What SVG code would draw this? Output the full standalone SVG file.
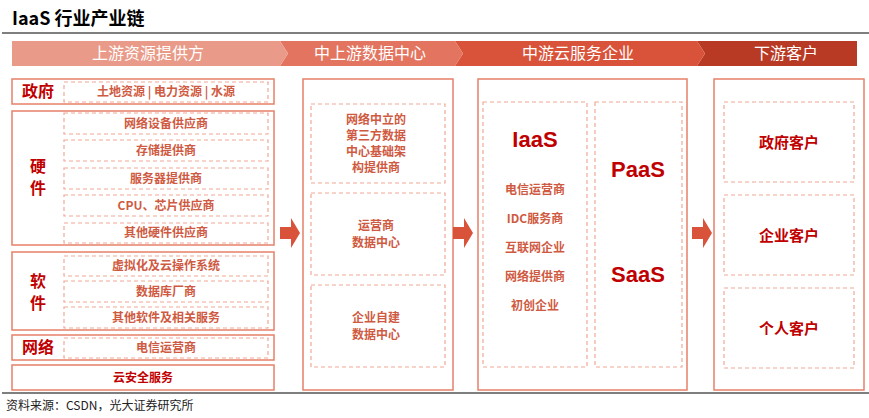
<svg xmlns="http://www.w3.org/2000/svg" width="869" height="418" viewBox="0 0 869 418">
<style>
text{font-family:"Noto Sans CJK SC","Liberation Sans",sans-serif;font-weight:bold;text-anchor:middle}
.box{fill:#fff;stroke:#e8806a;stroke-width:1.5}
.dash{fill:none;stroke:#f0a896;stroke-width:1.2;stroke-dasharray:4 3}
.it{fill:#cf5a42;font-size:12px}
.lb{fill:#c00000;font-size:16px}
.hd{fill:#fff;font-size:16px;font-weight:normal}
.big{fill:#c00000;font-family:"Liberation Sans",sans-serif;font-size:22px}
.cu{fill:#c00000;font-size:15px}
.ar{fill:#d9533a}
</style>
<rect width="869" height="418" fill="#fff"/>
<text x="12" y="25" style="text-anchor:start;font-size:18px;fill:#000">IaaS 行业产业链</text>
<line x1="2" y1="33" x2="869" y2="33" stroke="#555" stroke-width="1.5"/>
<line x1="2" y1="393" x2="869" y2="393" stroke="#555" stroke-width="1.5"/>
<text x="6" y="410" style="text-anchor:start;font-size:12px;font-weight:normal;fill:#222">资料来源：CSDN，光大证券研究所</text>
<g id="header">
<polygon points="697,41 857,41 857,66 697,66 705,53.5" fill="#b83a24"/>
<polygon points="455,41 697,41 705,53.5 697,66 455,66 463,53.5" fill="#d9533a"/>
<polygon points="280,41 455,41 463,53.5 455,66 280,66 288,53.5" fill="#e37560"/>
<polygon points="12,41 280,41 288,53.5 280,66 12,66" fill="#e99a88"/>
<text class="hd" x="148" y="59">上游资源提供方</text>
<text class="hd" x="370" y="59">中上游数据中心</text>
<text class="hd" x="578" y="59">中游云服务企业</text>
<text class="hd" x="786" y="59">下游客户</text>
</g>
<g id="gov"><rect class="box" x="12" y="79" width="262" height="25"/><rect class="dash" x="64" y="82" width="204" height="20"/>
<text class="lb" x="38" y="97">政府</text><text class="it" x="166" y="96">土地资源 | 电力资源 | 水源</text></g>
<g id="hw"><rect class="box" x="12" y="111" width="262" height="134"/>
<text class="lb" x="38" y="172">硬</text><text class="lb" x="38" y="194">件</text>
<rect class="dash" x="64" y="113" width="204" height="21"/><text class="it" x="166" y="128">网络设备供应商</text>
<rect class="dash" x="64" y="140" width="204" height="21"/><text class="it" x="166" y="155">存储提供商</text>
<rect class="dash" x="64" y="168" width="204" height="21"/><text class="it" x="166" y="183">服务器提供商</text>
<rect class="dash" x="64" y="195" width="204" height="21"/><text class="it" x="166" y="210">CPU、芯片供应商</text>
<rect class="dash" x="64" y="223" width="204" height="20"/><text class="it" x="166" y="237">其他硬件供应商</text></g>
<g id="sw"><rect class="box" x="12" y="252" width="262" height="78"/>
<text class="lb" x="38" y="287">软</text><text class="lb" x="38" y="309">件</text>
<rect class="dash" x="64" y="256" width="204" height="20"/><text class="it" x="166" y="270">虚拟化及云操作系统</text>
<rect class="dash" x="64" y="281" width="204" height="21"/><text class="it" x="166" y="296">数据库厂商</text>
<rect class="dash" x="64" y="307" width="204" height="21"/><text class="it" x="166" y="322">其他软件及相关服务</text></g>
<g id="net"><rect class="box" x="12" y="335" width="262" height="25"/><rect class="dash" x="64" y="338" width="204" height="20"/>
<text class="lb" x="38" y="353">网络</text><text class="it" x="166" y="352">电信运营商</text></g>
<g id="sec"><rect class="box" x="12" y="365" width="262" height="25"/><text class="it" x="143" y="382" style="fill:#c00000">云安全服务</text></g>
<g id="dc"><rect class="box" x="303" y="79" width="150" height="311"/>
<rect class="dash" x="311" y="104" width="134" height="79"/>
<text class="it" x="376" y="124">网络中立的</text><text class="it" x="376" y="140">第三方数据</text><text class="it" x="376" y="156">中心基础架</text><text class="it" x="376" y="172">构提供商</text>
<rect class="dash" x="311" y="193" width="134" height="82"/>
<text class="it" x="376" y="230">运营商</text><text class="it" x="376" y="247">数据中心</text>
<rect class="dash" x="311" y="285" width="134" height="82"/>
<text class="it" x="376" y="322">企业自建</text><text class="it" x="376" y="339">数据中心</text></g>
<g id="cloud"><rect class="box" x="478" y="79" width="209" height="311"/>
<rect class="dash" x="483" y="102" width="104" height="265"/>
<rect class="dash" x="595" y="102" width="87" height="265"/>
<text class="big" x="535" y="147">IaaS</text>
<text class="it" x="535" y="194">电信运营商</text><text class="it" x="535" y="223">IDC服务商</text><text class="it" x="535" y="252">互联网企业</text><text class="it" x="535" y="281">网络提供商</text><text class="it" x="535" y="310">初创企业</text>
<text class="big" x="638" y="177">PaaS</text><text class="big" x="638" y="282">SaaS</text></g>
<g id="cust"><rect class="box" x="714" y="79" width="150" height="311"/>
<rect class="dash" x="724" y="102" width="130" height="80"/><text class="cu" x="789" y="148">政府客户</text>
<rect class="dash" x="724" y="195" width="130" height="80"/><text class="cu" x="789" y="241">企业客户</text>
<rect class="dash" x="724" y="288" width="130" height="80"/><text class="cu" x="789" y="334">个人客户</text></g>
<g id="connectors">
<polygon class="ar" points="280,227 291,227 291,218 300,233 291,248 291,239 280,239"/>
<polygon class="ar" points="453,227 464,227 464,218 473,233 464,248 464,239 453,239"/>
<polygon class="ar" points="692,227 703,227 703,218 712,233 703,248 703,239 692,239"/>
</g>
</svg>
